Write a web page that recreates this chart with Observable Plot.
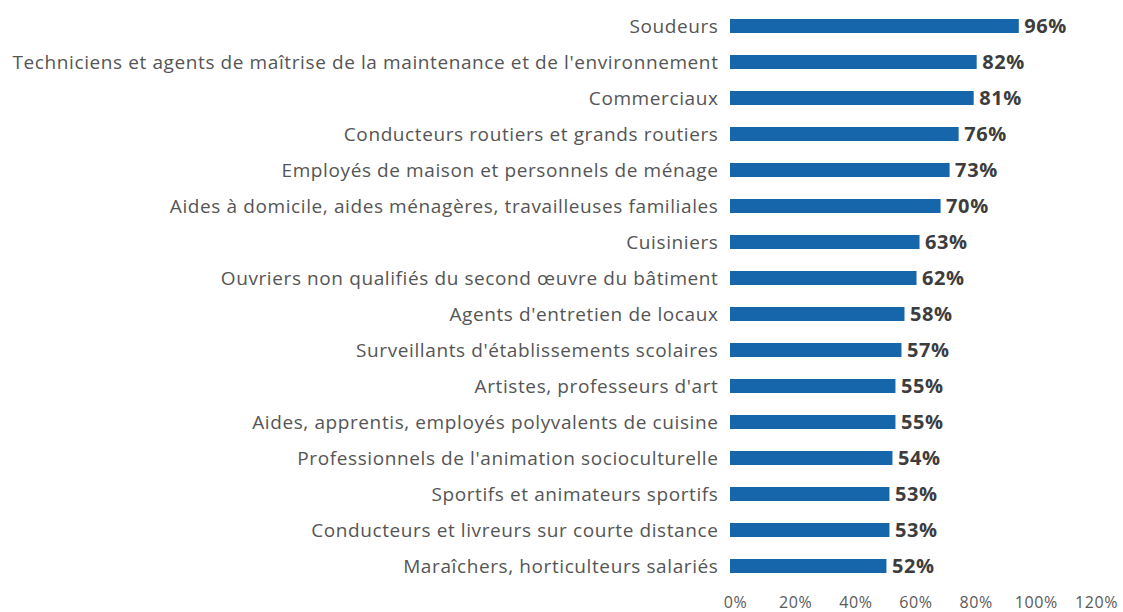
<!DOCTYPE html>
<html>
<head>
<meta charset="utf-8">
<script src="https://cdn.jsdelivr.net/npm/d3@7"></script>
<script src="https://cdn.jsdelivr.net/npm/@observablehq/plot@0.6"></script>
<style>
  html, body { margin: 0; padding: 0; background: #fff; }
  #chart svg { display: block; }
</style>
</head>
<body>
<div id="chart"></div>
<script>
const categories = [
  "Soudeurs",
  "Techniciens et agents de maîtrise de la maintenance et de l'environnement",
  "Commerciaux",
  "Conducteurs routiers et grands routiers",
  "Employés de maison et personnels de ménage",
  "Aides à domicile, aides ménagères, travailleuses familiales",
  "Cuisiniers",
  "Ouvriers non qualifiés du second œuvre du bâtiment",
  "Agents d'entretien de locaux",
  "Surveillants d'établissements scolaires",
  "Artistes, professeurs d'art",
  "Aides, apprentis, employés polyvalents de cuisine",
  "Professionnels de l'animation socioculturelle",
  "Sportifs et animateurs sportifs",
  "Conducteurs et livreurs sur courte distance",
  "Maraîchers, horticulteurs salariés"
];
const values = [0.96, 0.82, 0.81, 0.76, 0.73, 0.70, 0.63, 0.62, 0.58, 0.57, 0.55, 0.55, 0.54, 0.53, 0.53, 0.52];
const xTicks = [0, 0.2, 0.4, 0.6, 0.8, 1.0, 1.2];

const data = categories.map((c, i) => ({category: c, value: values[i]}));
const pct = d => Math.round(d * 100) + "%";

const chart = Plot.plot({
  width: 1123,
  height: 612,
  marginLeft: 730,
  marginRight: 32,
  marginTop: 8,
  marginBottom: 28,
  style: {fontFamily: "'Open Sans', Lato, sans-serif", fontSize: "19px", color: "#555", letterSpacing: "0.6px", overflow: "visible"},
  x: {domain: [0, 1.2], label: null},
  y: {domain: categories, label: null, paddingInner: 0.6, paddingOuter: 0.3},
  marks: [
    Plot.axisX({ticks: xTicks, tickFormat: pct, tickSize: 0, tickPadding: 12, fontSize: 16, dx: 5, fill: "#5a5a5a", label: null}),
    Plot.axisY({tickSize: 0, tickPadding: 12, fontSize: 19, fill: "#555", label: null}),
    Plot.barX(data, {x: "value", y: "category", fill: "#1666ac"}),
    Plot.text(data, {
      x: "value", y: "category",
      text: d => pct(d.value),
      textAnchor: "start", dx: 5,
      fontWeight: "bold", fontSize: 20, fill: "#3d3d3d"
    })
  ]
});
document.getElementById("chart").appendChild(chart);
</script>
</body>
</html>
